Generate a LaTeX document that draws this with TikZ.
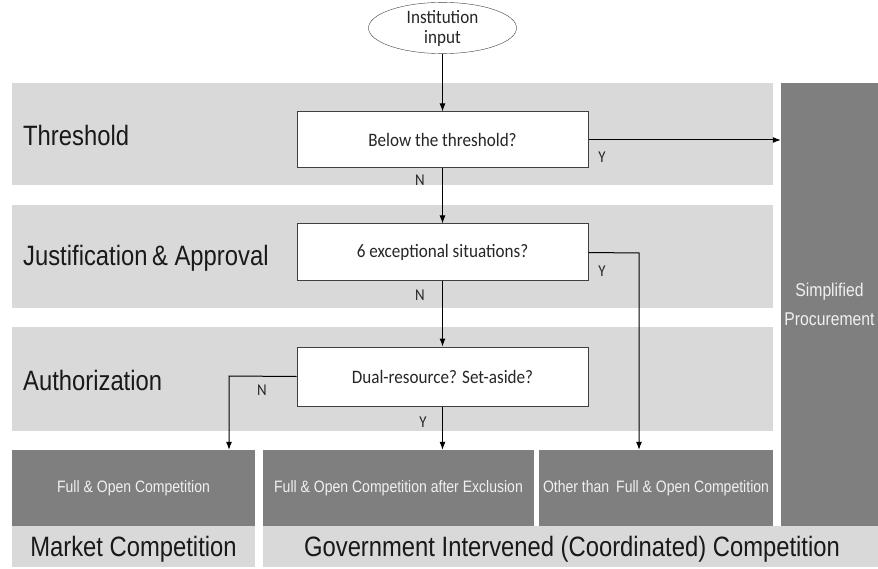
\documentclass[tikz,border=0pt]{standalone}
\usepackage{fontspec}
\setmainfont{Liberation Sans}
\newfontfamily\lanefont[FakeStretch=0.85]{Liberation Sans}
\newfontfamily\qfont[FakeStretch=0.9]{Carlito}
\usetikzlibrary{arrows.meta,shapes.geometric}
\definecolor{lanegray}{HTML}{D9D9D9}
\definecolor{outgray}{HTML}{7F7F7F}
\definecolor{edgegray}{HTML}{404040}

\begin{document}
\begin{tikzpicture}[x=1pt, y=-1pt,
  lane/.style={fill=lanegray},
  lanelabel/.style={anchor=west, inner sep=0pt, text=black!90,
    font=\lanefont\fontsize{28}{30}\selectfont},
  question/.style={draw=edgegray, fill=white, line width=1pt, inner sep=0pt,
    minimum width=291pt, text=black!85, font=\qfont\fontsize{19}{22}\selectfont},
  outcome/.style={fill=outgray, inner sep=0pt, minimum height=76pt, text=white!94!black,
    font=\lanefont\fontsize{16.5}{18}\selectfont},
  yn/.style={inner sep=0pt, text=black!85, font=\qfont\fontsize{16.5}{18}\selectfont},
  flow/.style={-{Latex[length=8pt,width=6pt]}, line width=1pt}]
\useasboundingbox (0,0) rectangle (878,569);
% lanes
\fill[lane] (12,83) rectangle (773,185);
\fill[lane] (12,205) rectangle (773,308);
\fill[lane] (12,327) rectangle (773,431);
\fill[lane] (12,526) rectangle (255,567);
\fill[lane] (263,526) rectangle (878,567);
\node[lanelabel] (thrlab) at (23,135) {Threshold};
\node[lanelabel] (japlab) at (23,258) {Justification\hspace{-2pt} \& Approval};
\node[lanelabel] (autlab) at (23,380) {Authorization};
\node[lanelabel, anchor=center] (mktlab) at (133.5,549) {Market Competition};
\node[lanelabel, anchor=center] (govlab) at (572,549) {Government Intervened (Coordinated) Competition};
% outcomes
\node[outcome, minimum width=97pt, minimum height=443pt, align=center,
  font=\lanefont\fontsize{18.5}{29}\selectfont] (simp) at (829.5,304.5) {Simplified\\Procurement};
\node[outcome, minimum width=243pt] (full) at (133.5,488) {Full \& Open Competition};
\node[outcome, minimum width=271pt] (excl) at (398.5,488) {Full \& Open Competition after Exclusion};
\node[outcome, minimum width=234pt] (other) at (656,488) {Other than\hspace{3pt} Full \& Open Competition};
% decisions
\node[draw=edgegray, fill=white, ellipse, minimum width=148pt, minimum height=46pt, inner sep=0pt,
  align=center, text=black!85, font=\qfont\fontsize{19}{20}\selectfont] (inst) at (442.5,28) {Institution\\input};
\node[question, minimum height=56pt] (thr) at (442.5,140) {Below the threshold?};
\node[question, minimum height=57pt] (exc) at (442.5,252.5) {6 exceptional situations?};
\node[question, minimum height=59pt] (dual) at (442.5,376.5) {Dual-resource? Set-aside?};
\coordinate (ybend) at (639,253);
\coordinate (nbend) at (229,376);
% connectors
\draw[flow] (inst) -- (thr);
\draw[flow] (thr.east) -- (thr.east -| simp.west);
\draw[flow] (thr) -- (exc);
\draw[flow] (exc) -- (dual);
\draw[flow] (exc.east) -- (ybend) -- (ybend |- other.north);
\draw[flow] (dual.west) -- (nbend) -- (nbend |- full.north);
\draw[flow] (dual) -- (dual |- excl.north);
\node[yn] (thry) at (602,157) {Y};
\node[yn] (thrn) at (420,180) {N};
\node[yn] (excy) at (602,271) {Y};
\node[yn] (excn) at (420,295) {N};
\node[yn] (dualn) at (262,390) {N};
\node[yn] (dualy) at (423,422) {Y};
\end{tikzpicture}
\end{document}
